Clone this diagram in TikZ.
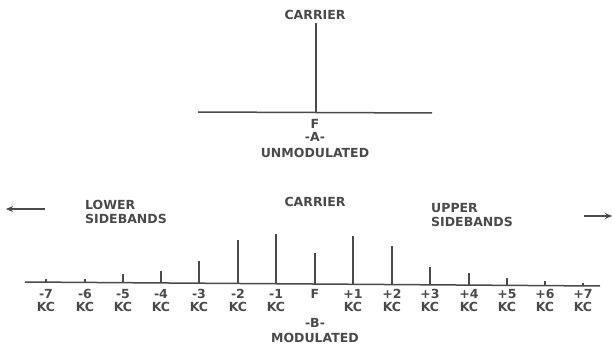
\documentclass[tikz,border=0pt]{standalone}
\usepackage{fontspec}
\setmainfont{DejaVu Sans}
\usetikzlibrary{arrows.meta}
\definecolor{ink}{HTML}{4A4A4A}
\tikzset{
  lbl/.style={font=\bfseries\fontsize{12.5}{12.5}\selectfont, text=ink, inner sep=0pt, align=center},
  spec/.style={draw=ink, line width=1.6pt},
  axis/.style={draw=ink, line width=1.5pt},
  sidearrow/.style={draw=ink, line width=1.5pt, -{Stealth[length=7pt,width=6pt]}}
}
\begin{document}
\begin{tikzpicture}[x=1pt,y=-1pt]
\useasboundingbox (0,0) rectangle (612,347);
% ---- A: unmodulated ----
\node[lbl] (carA) at (315,15) {CARRIER};
\coordinate (aL) at (198,112);
\coordinate (aR) at (432,113);
\coordinate (aF) at (316,112);
\coordinate (aT) at (316,23);
\draw[axis] (aL) -- (aR);
\draw[spec] (aF) -- (aT);
\node[lbl] (fA) at (315,124) {F};
\node[lbl] (labA) at (315,137) {-A-};
\node[lbl] (unmod) at (315,153) {UNMODULATED};
% ---- B: modulated ----
\node[lbl] (carB) at (315,202) {CARRIER};
\node[lbl, anchor=west] (lower1) at (85,205) {LOWER};
\node[lbl, anchor=west] (lower2) at (85,219) {SIDEBANDS};
\node[lbl, anchor=west] (upper1) at (431,208) {UPPER};
\node[lbl, anchor=west] (upper2) at (431,222) {SIDEBANDS};
\coordinate (lArS) at (45,209);
\coordinate (lArE) at (6,209);
\draw[sidearrow] (lArS) -- (lArE);
\coordinate (rArS) at (584,216);
\coordinate (rArE) at (612,216);
\draw[sidearrow] (rArS) -- (rArE);
\coordinate (bL) at (25,282);
\coordinate (bR) at (600,286);
\draw[axis] (bL) -- (bR);
\foreach \n/\x/\top/\txt in {
  m7/46/279/{-7}, m6/85/279/{-6}, m5/123/274/{-5}, m4/161/271/{-4},
  m3/199/261/{-3}, m2/238/240/{-2}, m1/276/234/{-1},
  p1/353/236/{+1}, p2/392/246/{+2}, p3/430/267/{+3}, p4/469/273/{+4},
  p5/507/278/{+5}, p6/545/281/{+6}, p7/583/283/{+7}}{
  \pgfmathsetmacro{\base}{282+4*(\x-25)/575}
  \coordinate (b\n) at (\x,\base);
  \coordinate (t\n) at (\x,\top);
  \draw[spec] (b\n) -- (t\n);
  \node[lbl] (n\n) at (\x,294) {\txt};
  \node[lbl] (k\n) at (\x,307) {KC};
}
\coordinate (bF) at (315,284);
\coordinate (tF) at (315,253);
\draw[spec] (bF) -- (tF);
\node[lbl] (fB) at (315,294) {F};
\node[lbl] (labB) at (315,323) {-B-};
\node[lbl] (mod) at (315,338) {MODULATED};
\end{tikzpicture}
\end{document}
